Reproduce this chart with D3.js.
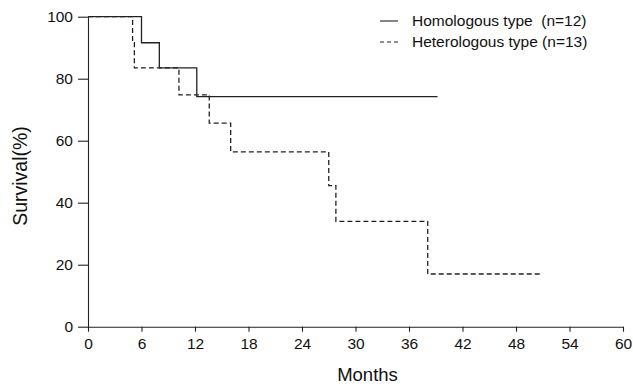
<!DOCTYPE html>
<html>
<head>
<meta charset="utf-8">
<script src="https://cdn.jsdelivr.net/npm/d3@7"></script>
<style>
  body { margin: 0; background: #fff; }
  text { font-family: "Liberation Sans", Arial, sans-serif; fill: #111; white-space: pre; }
</style>
</head>
<body>
<div id="chart"></div>
<script>
// Kaplan-Meier steps: [month, survival %]
const homologous = [[0, 100], [6, 91.6], [8, 83.5], [12.2, 74.2], [39.2, 74.2]];
const heterologous = [[0, 100], [5, 91.6], [5.2, 83.5], [10.2, 74.8], [13.6, 65.7],
  [16, 56.4], [27, 45.5], [27.8, 34], [38.1, 17], [50.8, 17]];
const xTicks = [0, 6, 12, 18, 24, 30, 36, 42, 48, 54, 60];
const yTicks = [0, 20, 40, 60, 80, 100];
const legendLabels = ["Homologous type  (n=12)", "Heterologous type (n=13)"];

const margin = {top: 16.7, right: 10, bottom: 57.3, left: 88};
const W = 633, H = 384;
const width = W - margin.left - margin.right;
const height = H - margin.top - margin.bottom;

const svg = d3.select("#chart").append("svg")
    .attr("width", W)
    .attr("height", H);
const g = svg.append("g")
    .attr("transform", "translate(" + margin.left + "," + margin.top + ")");

const x = d3.scaleLinear().domain([0, 60]).range([0, width]);
const y = d3.scaleLinear().domain([0, 100]).range([height, 0]);

// axes
const xAxis = g.append("g")
    .attr("transform", "translate(0," + height + ")")
    .call(d3.axisBottom(x).tickValues(xTicks).tickSize(5).tickSizeOuter(0).tickPadding(6));
const yAxis = g.append("g")
    .call(d3.axisLeft(y).tickValues(yTicks).tickSize(10).tickSizeOuter(0).tickPadding(5));

[xAxis, yAxis].forEach((a) => {
    a.select(".domain").attr("stroke", "#222").attr("stroke-width", 1.1);
    a.selectAll(".tick line").attr("stroke", "#222").attr("stroke-width", 1.1);
    a.selectAll(".tick text").style("font-size", "15.5px")
        .style("font-family", "'Liberation Sans', Arial, sans-serif").attr("fill", "#111");
});

// survival curves
const line = d3.line()
    .x((d) => x(d[0]))
    .y((d) => y(d[1]))
    .curve(d3.curveStepAfter);

g.append("path")
    .datum(homologous)
    .attr("d", line)
    .attr("fill", "none")
    .attr("stroke", "#222")
    .attr("stroke-width", 1.3);

g.append("path")
    .datum(heterologous)
    .attr("d", line)
    .attr("fill", "none")
    .attr("stroke", "#222")
    .attr("stroke-width", 1.3)
    .attr("stroke-dasharray", "5,3");

// axis titles
svg.append("text")
    .attr("x", margin.left + width / 2 + 12)
    .attr("y", 381)
    .attr("text-anchor", "middle")
    .style("font-size", "18.5px")
    .text("Months");

svg.append("text")
    .attr("transform", "translate(27,176) rotate(-90)")
    .attr("text-anchor", "middle")
    .style("font-size", "19.5px")
    .text("Survival(%)");

// legend
const legend = svg.append("g").attr("transform", "translate(380,0)");
const rows = legend.selectAll("g")
    .data(legendLabels)
    .enter().append("g")
    .attr("transform", (d, i) => "translate(0," + (21 + i * 21) + ")");
rows.append("line")
    .attr("x1", 0).attr("x2", 18)
    .attr("stroke", "#222")
    .attr("stroke-width", 1.1)
    .attr("stroke-dasharray", (d, i) => i ? "4,3" : null);
rows.append("text")
    .attr("x", 32)
    .attr("y", 5)
    .style("font-size", "15.5px")
    .text((d) => d);
</script>
</body>
</html>
